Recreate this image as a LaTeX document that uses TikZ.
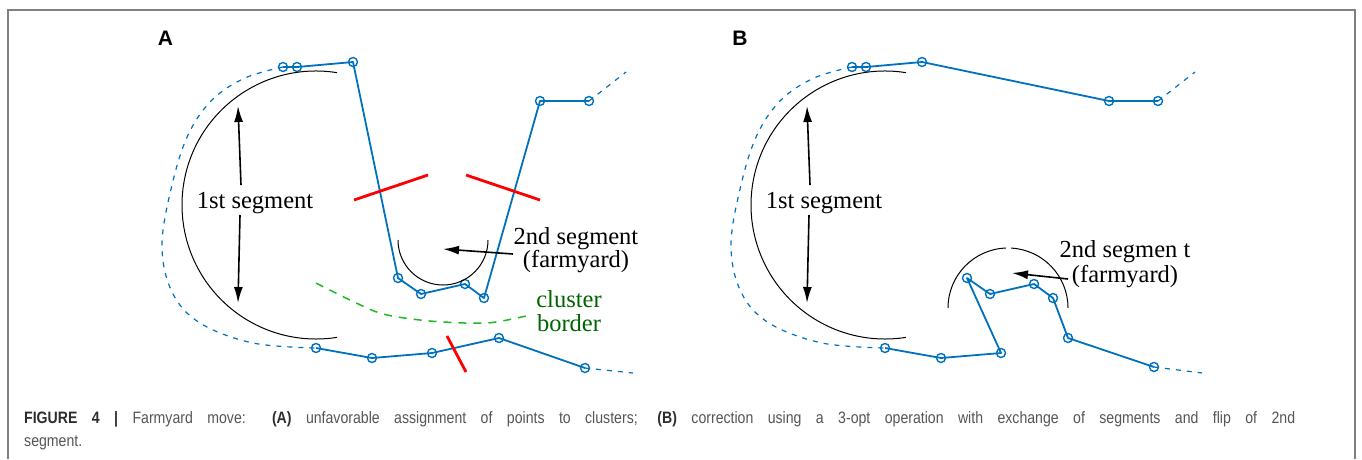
\documentclass[tikz,border=0pt]{standalone}
\usepackage{fontspec}
\setmainfont{Liberation Serif}
\setsansfont{Liberation Sans}
\newfontfamily\captfont[FakeStretch=0.855]{Liberation Sans}
\usetikzlibrary{arrows.meta}

\definecolor{tourblue}{RGB}{0,114,189}
\definecolor{cutred}{RGB}{255,0,0}
\definecolor{bordergreen}{RGB}{30,185,30}
\definecolor{labelgreen}{RGB}{0,100,0}
\definecolor{framegray}{RGB}{128,128,128}
\definecolor{captdark}{RGB}{45,45,45}
\definecolor{captgray}{RGB}{85,85,85}

\begin{document}
\begin{tikzpicture}[x=1pt,y=-1pt,
  tour/.style={draw=tourblue,line width=1.8pt,line join=round},
  tourdash/.style={draw=tourblue,line width=1.2pt,dash pattern=on 5pt off 6pt},
  pt/.style={circle,draw=tourblue,line width=1.4pt,inner sep=0pt,minimum size=9pt},
  cut/.style={draw=cutred,line width=2.8pt},
  segarc/.style={draw=black,line width=1pt},
  arr/.style={draw=black,line width=1.6pt,-{Latex[length=16pt,width=9pt]}},
  borderline/.style={draw=bordergreen,line width=1.5pt,dash pattern=on 8pt off 7pt},
  lbl/.style={font=\fontsize{24.5}{28}\selectfont,inner sep=0pt,anchor=base},
  panel/.style={font=\sffamily\bfseries\fontsize{21}{24}\selectfont,inner sep=0pt,anchor=base},
  capt/.style={font=\captfont\fontsize{16.5}{18}\selectfont,inner sep=0pt,anchor=base west,text=captgray},
]
\useasboundingbox (0,0) rectangle (1362,459);

% frame
\draw[framegray,line width=2pt] (8,459) -- (8,10) -- (1355,10) -- (1355,459);

% ---------------- panel A ----------------
\node[panel] (lA) at (165.5,45) {A};

\node[pt] (a1) at (283,67) {};
\node[pt] (a2) at (297,67) {};
\node[pt] (a3) at (353,62) {};
\node[pt] (a4) at (398,278) {};
\node[pt] (a5) at (421,294) {};
\node[pt] (a6) at (465,284) {};
\node[pt] (a7) at (484,298) {};
\node[pt] (a8) at (540,101) {};
\node[pt] (a9) at (589,101) {};
\coordinate (aEnd) at (626,72);

\node[pt] (b1) at (316,348) {};
\node[pt] (b2) at (372,358) {};
\node[pt] (b3) at (432,353) {};
\node[pt] (b4) at (499,338) {};
\node[pt] (b5) at (585,368) {};
\coordinate (bEnd) at (633,373);

\draw[tour] (a1.center) -- (a2.center) -- (a3.center) -- (a4.center) -- (a5.center)
  -- (a6.center) -- (a7.center) -- (a8.center) -- (a9.center);
\draw[tourdash] (a9.center) -- (aEnd);
\draw[tour] (b1.center) -- (b2.center) -- (b3.center) -- (b4.center) -- (b5.center);
\draw[tourdash] (b5.center) -- (bEnd);
\draw[tourdash] plot[smooth,tension=0.6] coordinates {(a1.center) (245,78) (212,100)
  (188,135) (172,185) (162,245) (172,292) (200,323) (253,343) (b1.center)};

% cluster border
\draw[borderline] plot[smooth] coordinates {(316,283) (350,300) (383,314) (430,321) (487,323) (530,315)};
\node[lbl,text=labelgreen] (clA) at (569,307) {cluster};
\node[lbl,text=labelgreen] (boA) at (569,331) {border};

% removed edges
\draw[cut] (354,200) -- (428,175);
\draw[cut] (466,175) -- (540,200);
\draw[cut] (447,336) -- (466,372);

% 1st segment
\coordinate (cA) at (316,205);
\draw[segarc] (cA) ++(-81:134) arc[start angle=-81,end angle=-279,radius=134];
\node[lbl] (s1A) at (255,208) {1st segment};
\coordinate (s1Atop) at (241,185);
\coordinate (s1Abot) at (240,215);
\coordinate (t1Atop) at (238,106);
\coordinate (t1Abot) at (238,303);
\draw[arr] (s1Atop) -- (t1Atop);
\draw[arr] (s1Abot) -- (t1Abot);

% 2nd segment
\coordinate (fA) at (443,240);
\draw[segarc] (fA) ++(180:45) arc[start angle=180,end angle=0,radius=45];
\node[lbl] (s2A) at (576,244) {2nd segment};
\node[lbl] (s2Ab) at (576,267) {(farmyard)};
\coordinate (s2Atail) at (513,254);
\coordinate (s2Atip) at (443,249);
\draw[arr] (s2Atail) -- (s2Atip);

% ---------------- panel B ----------------
\node[panel] (lB) at (740,45) {B};

\node[pt] (c1) at (852,67) {};
\node[pt] (c2) at (866,67) {};
\node[pt] (c3) at (922,62) {};
\node[pt] (c4) at (1109,101) {};
\node[pt] (c5) at (1158,101) {};
\coordinate (cEnd) at (1195,72);

\node[pt] (d1) at (885,348) {};
\node[pt] (d2) at (941,358) {};
\node[pt] (d3) at (1001,353) {};
\node[pt] (d4) at (967,278) {};
\node[pt] (d5) at (990,294) {};
\node[pt] (d6) at (1034,284) {};
\node[pt] (d7) at (1053,298) {};
\node[pt] (d8) at (1068,338) {};
\node[pt] (d9) at (1154,367) {};
\coordinate (dEnd) at (1202,373);

\draw[tour] (c1.center) -- (c2.center) -- (c3.center) -- (c4.center) -- (c5.center);
\draw[tourdash] (c5.center) -- (cEnd);
\draw[tour] (d1.center) -- (d2.center) -- (d3.center) -- (d4.center) -- (d5.center)
  -- (d6.center) -- (d7.center) -- (d8.center) -- (d9.center);
\draw[tourdash] (d9.center) -- (dEnd);

\begin{scope}[xshift=569pt]
\draw[tourdash] plot[smooth,tension=0.6] coordinates {(c1.center) (245,78) (212,100)
  (188,135) (172,185) (162,245) (172,292) (200,323) (253,343) (d1.center)};
\coordinate (cB) at (316,205);
\draw[segarc] (cB) ++(-81:134) arc[start angle=-81,end angle=-279,radius=134];
\node[lbl] (s1B) at (255,208) {1st segment};
\coordinate (s1Btop) at (241,185);
\coordinate (s1Bbot) at (240,215);
\coordinate (t1Btop) at (238,106);
\coordinate (t1Bbot) at (238,303);
\draw[arr] (s1Btop) -- (t1Btop);
\draw[arr] (s1Bbot) -- (t1Bbot);
\end{scope}

\coordinate (fB) at (1008,308);
\draw[segarc] (fB) ++(-180:60) arc[start angle=-180,end angle=-92,radius=60];
\draw[segarc] (fB) ++(-87:60) arc[start angle=-87,end angle=0,radius=60];
\node[lbl] (s2B) at (1125,257) {2nd segmen t};
\node[lbl] (s2Bb) at (1125,282) {(farmyard)};
\coordinate (s2Btail) at (1068,279);
\coordinate (s2Btip) at (1012,273);
\draw[arr] (s2Btail) -- (s2Btip);

% ---------------- caption (first line set full measure) ----------------
\node[capt] (cap1) at (24,423) {\makebox[1271pt][s]{{\bfseries\color{captdark}FIGURE 4 |} Farmyard move: {\bfseries\color{captdark}(A)} unfavorable assignment of points to clusters; {\bfseries\color{captdark}(B)} correction using a 3-opt operation with exchange of segments and flip of 2nd}};
\node[capt] (cap2) at (24,446) {segment.};
\end{tikzpicture}
\end{document}
